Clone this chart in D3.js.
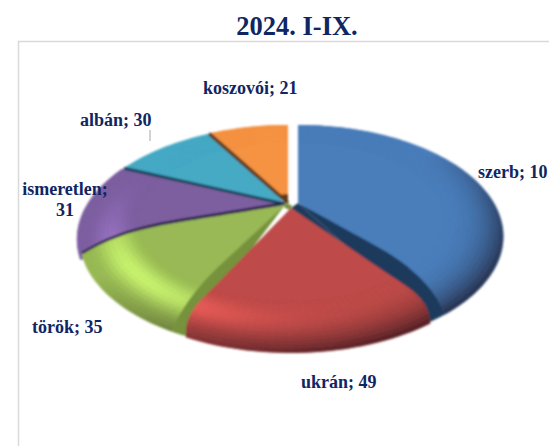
<!DOCTYPE html>
<html><head><meta charset="utf-8">
<script src="https://cdn.jsdelivr.net/npm/d3@7"></script>
<style>html,body{margin:0;padding:0;background:#fff;overflow:hidden}svg{display:block}text{font-family:"Liberation Serif",serif;font-weight:bold;fill:#0f2663}</style>
</head><body><svg id="c" width="549" height="446"></svg>
<script>
const titleText = "2024. I-IX.";
const categories = ["szerb","ukrán","török","ismeretlen","albán","koszovói"];
const values = [109,49,35,31,30,21];
const labelLines = [["szerb; 10"],["ukrán; 49"],["török; 35"],["ismeretlen;","31"],["albán; 30"],["koszovói; 21"]];

const colors = ["#4a7ebb","#be4b48","#98b954","#7d5fa0","#46aac5","#f59343"];
const darkBlue="#1c3a5c",darkGreen="#76923c",darkPurple="#2b1b4d",darkTeal="#14405a",darkBrown="#5e3b1c";
const centers = [[298,203],[291,208],[285,205],[285,205],[285,204],[288,203]];
const radii = [1,1,1,1.012,1,1];
// per-slice shaping, degrees: [extra at start, rim rounding at start, extra at end, rim rounding at end]; last: t where rounding begins
const shaping = [[0,0,-6,9,.5],[0,5.3,0,-4,.8],[2.4,-4.3,0,-8,.55],[-10,0,0,0,.8],[0,0,4,0,.8],[-3,0,0,0,.8]];
const labelPos = [[478,178,"start"],[301,388,"start"],[32,333,"start"],[65,195,"middle"],[80,126,"start"],[203,94,"start"]];
const W=549,H=446,A=101.5,B=196,P=0.3,RAD=Math.PI/180;
const svg=d3.select("#c");
const defs=svg.append("defs");
defs.append("filter").attr("id","soft").attr("x","-5%").attr("y","-5%").attr("width","110%").attr("height","110%").append("feGaussianBlur").attr("stdDeviation",0.8);

svg.append("path").attr("d",`M${W},41.5H18.5V${H}`).attr("fill","none").attr("stroke","#d9d9d9").attr("stroke-width",1.5);
svg.append("text").attr("x",297).attr("y",35).attr("text-anchor","middle").attr("font-size",26.5).text(titleText);

const arcs=d3.pie().value(d=>d).sort(null)(values);
const line=d3.line();
const rad=d=>d*RAD;
function proj(i,a,t){const c=centers[i],r=t*radii[i],u=r*Math.sin(a),v=-r*Math.cos(a),d=1-P*v;return [c[0]+B*u/d,c[1]+A*v/d];}
const frange=(a,b,n)=>d3.range(n+1).map(k=>a+(b-a)*k/n);
function wedge(i,a0,a1,t0=0,t1=1){
  const as=frange(a0,a1,Math.max(1,Math.ceil(Math.abs(a1-a0)/0.03)));
  const outer=as.map(a=>proj(i,a,t1));
  const inner=t0>0?as.slice().reverse().map(a=>proj(i,a,t0)):[centers[i]];
  return line(outer.concat(inner))+"Z";
}
function outline(i){
  const s=arcs[i],sh=shaping[i],tc=sh[4];
  const bend=(t,d)=>d*RAD*Math.pow(Math.max(0,(t-tc)/(1-tc)),2);
  const a0=t=>s.startAngle+sh[0]*RAD+bend(t,sh[1]);
  const a1=t=>s.endAngle+sh[2]*RAD+bend(t,sh[3]);
  const ts=frange(0,1,24);
  const up=ts.map(t=>proj(i,a0(t),t));
  const rim=frange(a0(1),a1(1),Math.ceil((a1(1)-a0(1))/0.03)).map(a=>proj(i,a,1));
  const down=ts.slice().reverse().map(t=>proj(i,a1(t),t));
  return line(up.concat(rim,down))+"Z";
}
const clamp=x=>Math.max(0,Math.min(1,x));
function shade(base,a,s){
  const dx=Math.sin(a),dy=-Math.cos(a);
  const hi=Math.pow(Math.sin(Math.PI*Math.min(1,s*1.12)),2)*Math.pow(clamp(dx*-0.7+dy*0.71),4);
  const dk=Math.pow(s,2.6)*clamp(dx*0.6+dy*0.8);
  const c=d3.rgb(base).brighter(0.8*hi);
  return d3.interpolateRgb(c,"#140812")(0.68*dk);
}
const g=svg.append("g").attr("filter","url(#soft)");
const T0=0.72,RINGS=14,STEP=2*RAD;
function drawSlice(i){
  const s=arcs[i],d=outline(i);
  defs.append("clipPath").attr("id","clip"+i).append("path").attr("d",d);
  const sg=g.append("g");
  sg.append("path").attr("d",d).attr("fill",colors[i]);
  const cg=sg.append("g").attr("clip-path",`url(#clip${i})`);
  const a0=s.startAngle-12*RAD,a1=s.endAngle+10*RAD,na=Math.ceil((a1-a0)/STEP);
  for(let r=0;r<RINGS;r++){
    const t0=T0+(1-T0)*r/RINGS,t1=T0+(1-T0)*(r+1)/RINGS,sv=(r+0.5)/RINGS;
    for(let k=0;k<na;k++){
      const b0=a0+(a1-a0)*k/na,b1=a0+(a1-a0)*(k+1)/na;
      const col=shade(colors[i],(b0+b1)/2,sv);
      cg.append("path").attr("d",wedge(i,b0,b1,t0,t1)).attr("fill",col).attr("stroke",col).attr("stroke-width",0.4);
    }
  }
}
function wall(i,a,w,color){
  g.append("path").attr("d",line([centers[i],proj(i,a,1)])).attr("stroke",color).attr("stroke-width",w).attr("fill","none");
}
// purple, teal and orange lie at the back
drawSlice(3);
drawSlice(4);
wall(4,arcs[4].startAngle,3,darkTeal);
drawSlice(5);
wall(5,arcs[5].startAngle+rad(shaping[5][0]),3.6,darkBrown);
g.append("path").attr("d",wedge(5,arcs[5].startAngle,arcs[5].endAngle,0,0.09)).attr("fill",darkBrown);
// green with its dark upper edge and its cut wall
g.append("path").attr("d",outline(2)).attr("fill",darkPurple).attr("transform","translate(0,-3)");
g.append("path").attr("d",wedge(2,arcs[2].startAngle-rad(5.4),arcs[2].startAngle+rad(5))).attr("fill",darkGreen);
g.append("path").attr("d",line([centers[2],centers[1]])).attr("stroke",darkGreen).attr("stroke-width",5).attr("fill","none");
drawSlice(2);
// blue with its cut wall, then red in front
{
  const e=arcs[0].endAngle;
  g.append("path").attr("d",wedge(0,e-rad(9),e+rad(7.3))).attr("fill",darkBlue);
  const band=[centers[0],proj(0,e+rad(7.3),1),centers[1]];
  g.append("path").attr("d",line(band)+"Z").attr("fill",darkBlue);
}
drawSlice(0);
drawSlice(1);
svg.append("line").attr("x1",150).attr("x2",150).attr("y1",130).attr("y2",141).attr("stroke","#a6a6a6");
labelLines.forEach((ls,i)=>{
  const p=labelPos[i];
  const t=svg.append("text").attr("text-anchor",p[2]).attr("font-size",18);
  ls.forEach((l,j)=>t.append("tspan").attr("x",p[0]).attr("y",p[1]+j*21).text(l));
});
</script></body></html>
